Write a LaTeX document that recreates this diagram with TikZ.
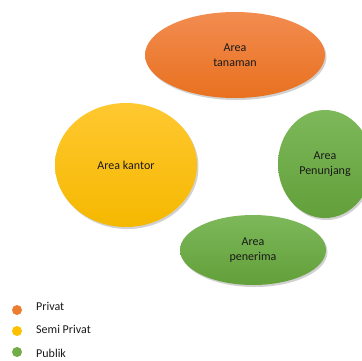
\documentclass[tikz,border=0pt]{standalone}
\usepackage{fontspec}
\setmainfont{Carlito}
\usetikzlibrary{shapes.geometric}
\definecolor{orgT}{HTML}{F28C50}
\definecolor{orgB}{HTML}{E8711F}
\definecolor{yelT}{HTML}{FFC830}
\definecolor{yelB}{HTML}{F5B800}
\definecolor{grnT}{HTML}{7DB85A}
\definecolor{grnB}{HTML}{62A03A}
\definecolor{dotO}{HTML}{ED7D31}
\definecolor{dotY}{HTML}{FFC000}
\definecolor{dotG}{HTML}{70AD47}
\tikzset{
  zone/.style={ellipse, inner sep=0pt, align=center, font=\fontsize{12}{15}\selectfont, text=black!90},
  zshadow/.style={fill=black, opacity=0.18},
  legdot/.style={circle, inner sep=0pt, minimum size=10pt},
  legtxt/.style={anchor=west, inner sep=0pt, font=\fontsize{12}{14}\selectfont, text=black!90}
}
\begin{document}
\begin{tikzpicture}[x=1pt,y=-1pt]
\useasboundingbox (0,0) rectangle (362,360);
\clip (0,0) rectangle (362,360);
% shadows
\fill[zshadow] (236.5,57) ellipse [x radius=90, y radius=43];
\fill[zshadow] (127.5,167) ellipse [x radius=71, y radius=62];
\fill[zshadow] (326.5,166) ellipse [x radius=47, y radius=54];
\fill[zshadow] (254.5,252) ellipse [x radius=73, y radius=35];
% zones
\node[zone, minimum width=180pt, minimum height=86pt, top color=orgT, bottom color=orgB] (tanaman) at (235,55) {Area\\tanaman};
\node[zone, minimum width=142pt, minimum height=124pt, top color=yelT, bottom color=yelB] (kantor) at (126,165) {Area kantor};
\node[zone, minimum width=94pt, minimum height=108pt, top color=grnT, bottom color=grnB] (penunjang) at (325,164) {Area\\Penunjang};
\node[zone, minimum width=146pt, minimum height=70pt, top color=grnT, bottom color=grnB] (penerima) at (253,250) {Area\\penerima};
% legend
\node[legdot, fill=dotO] (d1) at (17,310) {};
\node[legdot, fill=dotY] (d2) at (17,331) {};
\node[legdot, fill=dotG] (d3) at (17,352) {};
\node[legtxt] (l1) at (36,306) {Privat};
\node[legtxt] (l2) at (36,329) {Semi Privat};
\node[legtxt] (l3) at (36,353) {Publik};
\end{tikzpicture}
\end{document}
